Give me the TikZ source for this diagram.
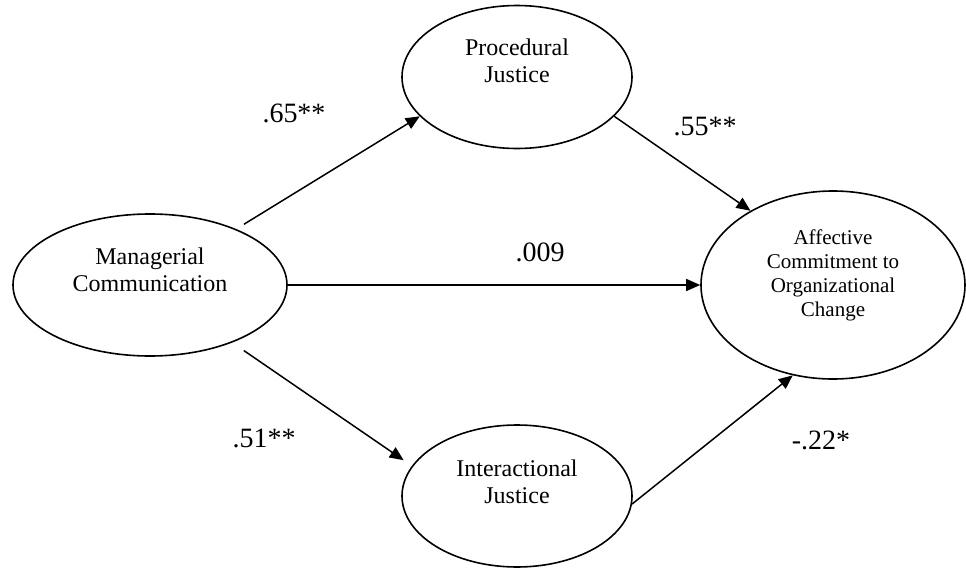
\documentclass[tikz,border=0pt]{standalone}
\usepackage{fontspec}
\setmainfont{Liberation Serif}
\usetikzlibrary{arrows.meta,shapes.geometric}
\tikzset{>={Triangle[length=7pt,width=6pt]},
 latent/.style={ellipse,draw,line width=0.8pt,inner sep=0pt,align=center,
 font=\fontsize{12}{13.5}\selectfont},
 coef/.style={inner sep=0pt,font=\fontsize{14}{16}\selectfont},
 link/.style={->,line width=0.75pt}}

\begin{document}
\begin{tikzpicture}[x=0.5pt,y=-0.5pt]
\useasboundingbox (0,0) rectangle (966,568);
\node[latent,minimum width=137pt,minimum height=71pt,text depth=15pt] (mc) at (150,285) {Managerial\\Communication};
\node[latent,minimum width=115pt,minimum height=71.5pt,text depth=16pt] (pj) at (517,77) {Procedural\\Justice};
\node[latent,minimum width=115pt,minimum height=71pt,text depth=14pt] (ij) at (517,496) {Interactional\\Justice};
\node[latent,minimum width=132pt,minimum height=94pt,text depth=12pt,
 font=\fontsize{10.5}{12}\selectfont] (ac) at (833,285) {Affective\\Commitment to\\Organizational\\Change};
\node[coef] (b1) at (294,113) {.65**};
\node[coef] (b2) at (705,127) {.55**};
\node[coef] (b3) at (540,252) {.009};
\node[coef] (b4) at (264,438) {.51**};
\node[coef] (b5) at (821,440) {-.22*};
\draw[link,shorten <=4.5pt] (mc.33) -- (pj.202);
\draw[link] (pj.338) -- (ac.138);
\draw[link] (mc.east) -- (ac.west);
\draw[link,shorten <=7pt,shorten >=5pt] (mc.325) -- (ij.164);
\draw[link] (ij.356) -- (ac.246);
\end{tikzpicture}
\end{document}
